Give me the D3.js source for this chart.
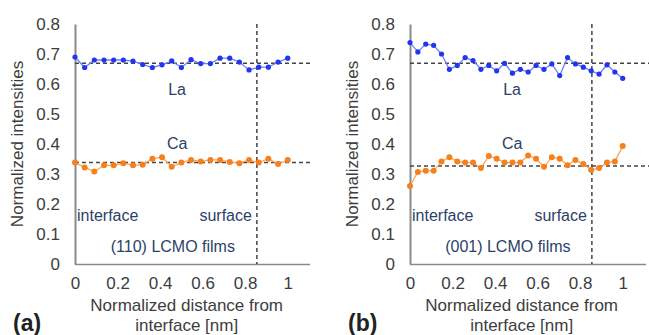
<!DOCTYPE html>
<html>
<head>
<meta charset="utf-8">
<script src="https://cdn.jsdelivr.net/npm/d3@7"></script>
<style>
  body { margin: 0; background: #fff; }
  svg { display: block; font-family: Arial, "Liberation Sans", sans-serif; }
</style>
</head>
<body>
<svg width="649" height="335"></svg>
<script>
// values
const laA = [0.69, 0.655, 0.68, 0.68, 0.68, 0.68, 0.676, 0.665, 0.655, 0.664, 0.677, 0.655, 0.681, 0.668, 0.668, 0.686, 0.686, 0.673, 0.647, 0.656, 0.656, 0.673, 0.686]
const caA = [0.338, 0.322, 0.308, 0.329, 0.329, 0.336, 0.329, 0.331, 0.351, 0.356, 0.324, 0.338, 0.347, 0.342, 0.347, 0.347, 0.34, 0.336, 0.347, 0.338, 0.351, 0.333, 0.347]
const laB = [0.738, 0.707, 0.733, 0.729, 0.700, 0.649, 0.662, 0.688, 0.678, 0.649, 0.662, 0.644, 0.669, 0.636, 0.649, 0.640, 0.662, 0.649, 0.667, 0.628, 0.688, 0.667, 0.656, 0.644, 0.633, 0.664, 0.640, 0.619]
const caB = [0.26, 0.307, 0.311, 0.311, 0.342, 0.356, 0.342, 0.338, 0.338, 0.32, 0.36, 0.351, 0.338, 0.338, 0.338, 0.362, 0.351, 0.324, 0.356, 0.351, 0.329, 0.347, 0.333, 0.313, 0.32, 0.338, 0.342, 0.393]
const refLevels = [[0.669, 0.338], [0.669, 0.327]]   // horizontal dashed lines (La, Ca)
const surfaceX = 0.855                             // vertical dashed line
const yTicks = [0, 0.1, 0.2, 0.3, 0.4, 0.5, 0.6, 0.7, 0.8]
const xTicks = [0, 0.2, 0.4, 0.6, 0.8, 1]
const panelLabels = ["(a)", "(b)"]
const filmLabels = ["(110) LCMO films", "(001) LCMO films"]

const svg = d3.select("svg")
const laClr = "#2136f0", laLine = "#6f80f5"
const caClr = "#f7801e", caLine = "#f9a65c"
const txtClr = "#2c3f6a", axClr = "#3d3d3d"

function drawPanel(left, la, ca, levels, panel, film, xEnd) {
    const x = d3.scaleLinear().domain([0, 1.1]).range([left, left + 234])
    const y = d3.scaleLinear().domain([0, 0.8]).range([264, 24])
    const g = svg.append("g")

    // axes
    const yAx = g.append("g").attr("transform", `translate(${left},0)`)
        .call(d3.axisLeft(y).tickValues(yTicks).tickSize(0).tickPadding(15)
            .tickFormat(d => d === 0 ? "0" : d3.format(".1f")(d)))
    const xAx = g.append("g").attr("transform", "translate(0,264)")
        .call(d3.axisBottom(x).tickValues(xTicks).tickSize(0).tickPadding(13)
            .tickFormat(d => d === 0 || d === 1 ? String(d) : d3.format(".1f")(d)))
    ;[yAx, xAx].forEach(a => {
        a.select(".domain").attr("stroke", "#8a8a8a").attr("stroke-width", 2)
        a.selectAll("text").attr("font-size", 17).attr("fill", axClr)
    })
    xAx.select(".domain").attr("stroke-width", 1.5).attr("d", `M${left},0.5H${xEnd}`)

    // dashed reference lines
    levels.forEach(v => {
        g.append("line").attr("x1", left).attr("x2", xEnd + 3)
            .attr("y1", y(v)).attr("y2", y(v))
            .attr("stroke", "#444").attr("stroke-width", 1.5).attr("stroke-dasharray", "4,3")
    })
    g.append("line").attr("x1", x(surfaceX)).attr("x2", x(surfaceX))
        .attr("y1", 24).attr("y2", 264)
        .attr("stroke", "#444").attr("stroke-width", 1.5).attr("stroke-dasharray", "4,3")

    // series
    const series = [[la, laClr, laLine, 2.6], [ca, caClr, caLine, 3]]
    series.forEach(([vals, c, lc, r]) => {
        const n = vals.length - 1
        const line = d3.line().x((d, i) => x(i / n)).y(d => y(d))
        g.append("path").datum(vals).attr("d", line)
            .attr("fill", "none").attr("stroke", lc).attr("stroke-width", 1.3)
        g.selectAll(null).data(vals).enter().append("circle")
            .attr("cx", (d, i) => x(i / n)).attr("cy", d => y(d)).attr("r", r).attr("fill", c)
    })

    // annotations
    const ann = [["La", x(0.48), 95, "middle"], ["Ca", x(0.48), 149, "middle"],
                 ["interface", left + 2, 221, "start"], ["surface", x(surfaceX) - 5, 221, "end"],
                 [film, x(0.46), 252, "middle"]]
    ann.forEach(([t, ax, ay, anc]) => {
        g.append("text").attr("x", ax).attr("y", ay).attr("text-anchor", anc)
            .attr("font-size", 16).attr("fill", txtClr).text(t)
    })

    // titles
    g.append("text").attr("transform", `translate(${left - 52},${144}) rotate(-90)`)
        .attr("text-anchor", "middle").attr("font-size", 17).attr("fill", axClr)
        .text("Normalized intensities")
    g.append("text").attr("x", x(0.525)).attr("y", 311).attr("text-anchor", "middle")
        .attr("font-size", 17).attr("fill", axClr).text("Normalized distance from")
    g.append("text").attr("x", x(0.525)).attr("y", 331).attr("text-anchor", "middle")
        .attr("font-size", 17).attr("fill", axClr).text("interface [nm]")
    g.append("text").attr("x", left - 62).attr("y", 331)
        .attr("font-size", 23).attr("font-weight", "bold").attr("fill", "#222").text(panel)
}

drawPanel(75, laA, caA, refLevels[0], panelLabels[0], filmLabels[0], 310)
drawPanel(410, laB, caB, refLevels[1], panelLabels[1], filmLabels[1], 646)
</script>
</body>
</html>
